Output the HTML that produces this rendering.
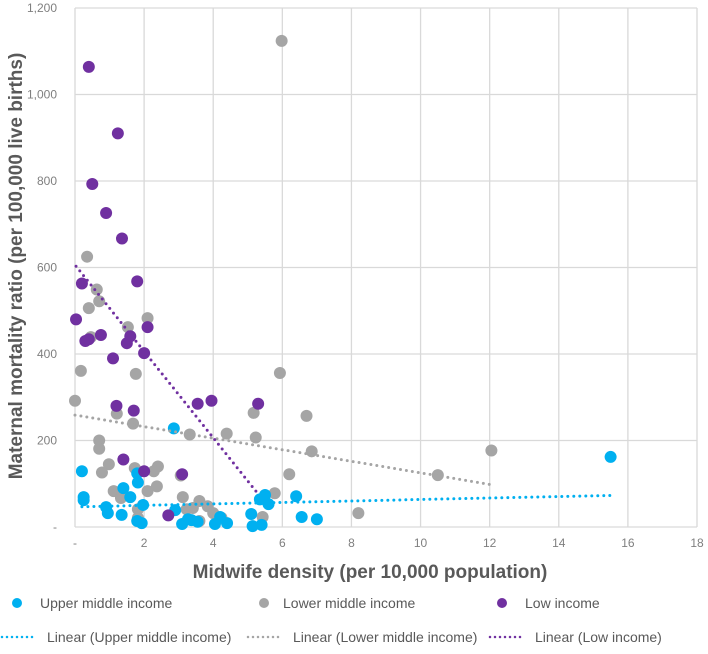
<!DOCTYPE html>
<html><head><meta charset="utf-8"><style>
body{margin:0;background:#fff;}
svg text{font-family:"Liberation Sans",sans-serif;}
</style></head><body>
<svg id="c" width="708" height="649" xmlns="http://www.w3.org/2000/svg"></svg>
<script>
const xTicks=[0,2,4,6,8,10,12,14,16,18];
const xTickLabels=['-','2','4','6','8','10','12','14','16','18'];
const yTicks=[0,200,400,600,800,1000,1200];
const yTickLabels=['-','200','400','600','800','1,000','1,200'];
const upperX=[0.2,0.25,0.25,0.9,0.95,1.35,1.4,1.6,1.8,1.82,1.97,1.8,1.93,2.86,2.9,3.1,3.27,3.37,3.55,4.05,4.2,4.4,5.1,5.14,5.4,5.35,5.5,5.6,6.4,6.56,7.0,15.5];
const upperY=[129,69,62,46,32,28,90,69,124,103,51,14,9,228,39,7,18,16,12,7,23,9,30,2,5,64,74,53,71,23,18,162];
const lowerX=[5.98,0.35,0.63,0.7,0.4,2.1,1.53,0.46,0.17,1.76,5.93,0,1.21,1.68,5.17,6.7,3.32,4.39,5.23,6.85,0.7,0.7,0.98,0.78,2.4,2.28,1.73,3.06,6.2,2.37,2.1,1.12,1.33,3.12,3.6,3.84,3.23,3.41,1.82,4.0,4.24,1.82,3.6,5.43,5.78,8.2,10.5,12.05];
const lowerY=[1124,625,549,522,506,483,462,439,361,354,356,292,262,239,264,257,214,216,207,175,200,181,145,126,140,129,136,119,122,94,83,83,67,69,60,48,41,44,41,32,21,21,14,23,78,32,120,177];
const lowX=[0.4,0.5,0.9,1.24,1.36,1.8,0.2,0.03,0.3,0.4,0.75,1.1,1.5,1.6,2.1,2.0,1.2,1.7,1.4,2.0,3.1,2.7,3.55,3.95,5.3];
const lowY=[1064,793,726,910,667,568,563,480,430,434,444,390,425,441,462,402,280,269,156,129,122,27,285,292,285];

const NS='http://www.w3.org/2000/svg';
const svg=document.getElementById('c');
const L=75,R=697,T=8,B=527;
const sx=v=>L+(v-0)/18*(R-L);
const sy=v=>B-(v/1200)*(B-T);
function el(tag,attrs,parent){const e=document.createElementNS(NS,tag);for(const k in attrs)e.setAttribute(k,attrs[k]);(parent||svg).appendChild(e);return e;}
xTicks.forEach((t,i)=>{
  const g=el('line',{x1:sx(t),x2:sx(t),y1:T,y2:B,stroke:'#d9d9d9','stroke-width':1.3});
  
  
  const tx=el('text',{x:sx(t),y:547,'text-anchor':'middle','font-size':12,fill:'#7f7f7f'});
  tx.textContent=xTickLabels[i];
  
  
});
yTicks.forEach((t,i)=>{
  const g=el('line',{x1:L,x2:R,y1:sy(t),y2:sy(t),stroke:'#d9d9d9','stroke-width':1.3});
  
  
  const tx=el('text',{x:57,y:sy(t)+4,'text-anchor':'end','font-size':12,fill:'#7f7f7f'});
  tx.textContent=yTickLabels[i];
  
  
});
function trend(xs,ys,color,name){
  const n=xs.length;let mx=0,my=0;xs.forEach((x,i)=>{mx+=x;my+=ys[i];});mx/=n;my/=n;
  let num=0,den=0;xs.forEach((x,i)=>{num+=(x-mx)*(ys[i]-my);den+=(x-mx)*(x-mx);});
  const b=num/den,a=my-b*mx;const x0=Math.min(...xs),x1=Math.max(...xs);
  const ln=el('line',{x1:sx(x0),y1:sy(a+b*x0),x2:sx(x1),y2:sy(a+b*x1),stroke:color,'stroke-width':3,'stroke-dasharray':'0 6','stroke-linecap':'round'});
  
  
}
function pts(xs,ys,color,name){
  xs.forEach((x,i)=>{
    const c=el('circle',{cx:sx(x),cy:sy(ys[i]),r:6,fill:color});
    
    
  });
}
pts(lowerX,lowerY,'#a5a5a5','lower-middle-point');
pts(upperX,upperY,'#00b0f0','upper-middle-point');
pts(lowX,lowY,'#7030a0','low-income-point');
trend(upperX,upperY,'#00b0f0','upper-middle-trendline');
trend(lowerX,lowerY,'#a5a5a5','lower-middle-trendline');
trend(lowX,lowY,'#7030a0','low-income-trendline');
let t=el('text',{x:370,y:578,'text-anchor':'middle','font-size':19,'font-weight':'bold',fill:'#595959'});
t.textContent='Midwife density (per 10,000 population)';


t=el('text',{x:0,y:0,'text-anchor':'middle','font-size':19,'font-weight':'bold',fill:'#595959',transform:'translate(22,266) rotate(-90)'});
t.textContent='Maternal mortality ratio (per 100,000 live births)';


const leg=[[17,40,'#00b0f0','Upper middle income'],[264,283,'#a5a5a5','Lower middle income'],[502,525,'#7030a0','Low income']];
leg.forEach(l=>{
  const c=el('circle',{cx:l[0],cy:603,r:5,fill:l[2]});
  
  
  const tx=el('text',{x:l[1],y:608,'font-size':14,fill:'#595959'});
  tx.textContent=l[3];
  
  
});
const leg2=[[2,37,'#00b0f0','Linear (Upper middle income)'],[248,283,'#a5a5a5','Linear (Lower middle income)'],[490,525,'#7030a0','Linear (Low income)']];
leg2.forEach(l=>{
  const ln=el('line',{x1:l[0],x2:l[0]+32,y1:637,y2:637,stroke:l[2],'stroke-width':2.5,'stroke-dasharray':'0 5','stroke-linecap':'round'});
  
  
  const tx=el('text',{x:l[1]+10,y:642,'font-size':14,fill:'#595959'});
  tx.textContent=l[3];
  
  
});
</script>
</body></html>
